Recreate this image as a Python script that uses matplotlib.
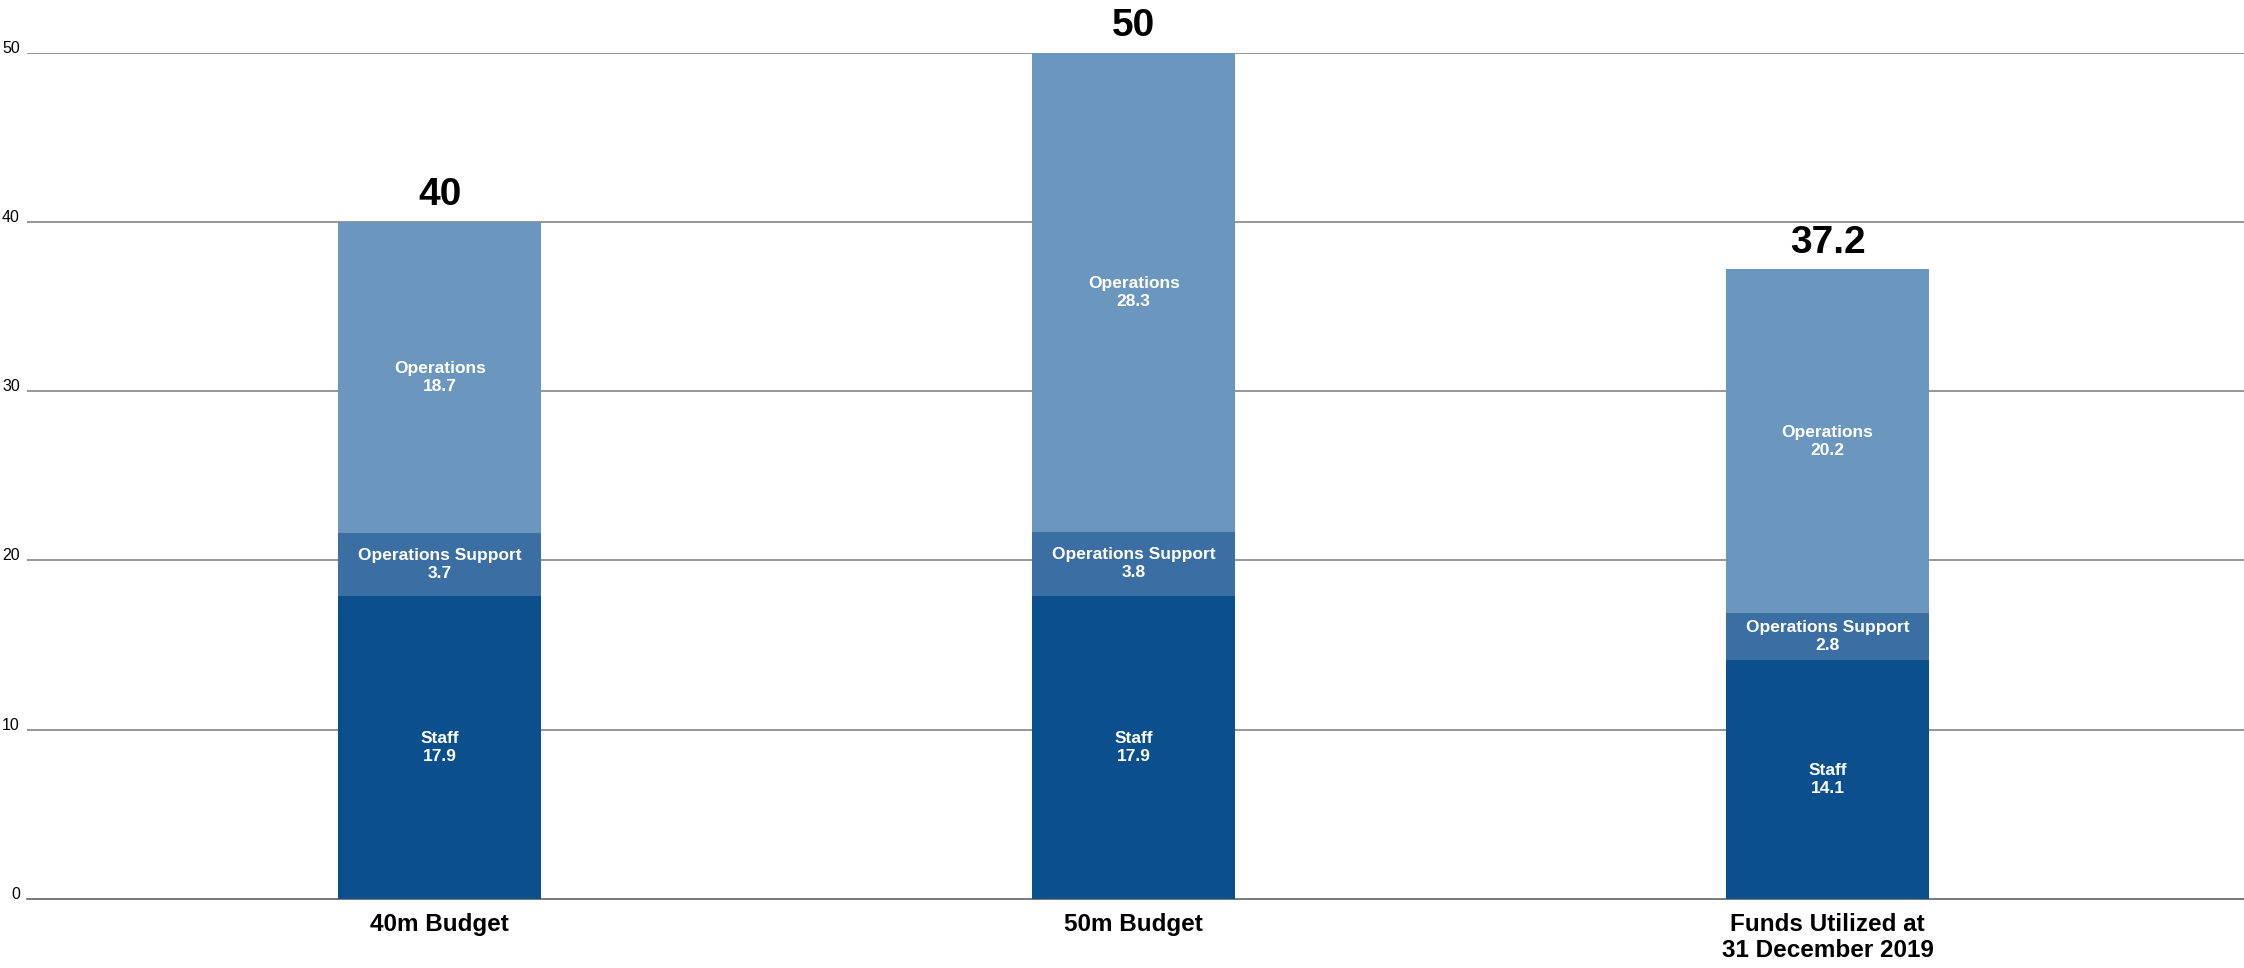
import numpy as np
import matplotlib
matplotlib.use('Agg')
import matplotlib.pyplot as plt

plt.rcParams['font.family'] = ['Liberation Sans', 'DejaVu Sans']

# data
categories = ['40m Budget', '50m Budget', 'Funds Utilized at\n31 December 2019']
staff = [17.9, 17.9, 14.1]
ops_support = [3.7, 3.8, 2.8]
operations = [18.7, 28.3, 20.2]
totals = [40, 50, 37.2]
total_labels = ['40', '50', '37.2']

colors = {'Staff': '#0b4f8c', 'Operations Support': '#3b6fa3', 'Operations': '#6b96bd'}

fig = plt.figure(figsize=(22.44, 9.68), dpi=100)
ax = fig.add_axes([0.012, 0.0713, 0.988, 0.8742])

x = np.arange(len(categories))
w = 0.292

# top segment drawn up to the stated total so the bar tops sit where the totals say
ops_drawn = np.array(totals) - np.array(staff) - np.array(ops_support)
bottom2 = np.array(staff) + np.array(ops_support)

ax.bar(x, staff, w, color=colors['Staff'], zorder=3)
ax.bar(x, ops_support, w, bottom=staff, color=colors['Operations Support'], zorder=3)
ax.bar(x, ops_drawn, w, bottom=bottom2, color=colors['Operations'], zorder=3)

# segment labels
lbl = dict(ha='center', va='center', color='white', fontsize=12.5, fontweight='bold',
           linespacing=1.25, zorder=4)
for i in range(len(x)):
    ax.text(x[i], staff[i] / 2, 'Staff\n' + f'{staff[i]:.1f}', **lbl)
    ax.text(x[i], staff[i] + ops_support[i] / 2, 'Operations Support\n' + f'{ops_support[i]:.1f}', **lbl)
    ax.text(x[i], bottom2[i] + ops_drawn[i] / 2, 'Operations\n' + f'{operations[i]:.1f}', **lbl)
    ax.annotate(total_labels[i], (x[i], totals[i]), xytext=(0, 12), textcoords='offset points',
                ha='center', va='baseline', fontsize=28, fontweight='bold', color='black',
                annotation_clip=False)

ax.set_xlim(-0.595, 2.6)
ax.set_ylim(0, 50)

# gridlines
for yv in [10, 20, 30, 40, 50]:
    ax.axhline(yv, color='#7a7a7a', lw=1.1, zorder=1)

ax.set_yticks([0, 10, 20, 30, 40, 50])
ax.set_yticklabels(['0', '10', '20', '30', '40', '50'], fontsize=11.5, va='baseline')
ax.tick_params(axis='y', length=0, pad=5)
ax.set_xticks(x)
ax.set_xticklabels(categories, fontsize=17.5, fontweight='bold', linespacing=1.2)
ax.tick_params(axis='x', length=0, pad=10)

for s in ['top', 'right', 'left']:
    ax.spines[s].set_visible(False)
ax.spines['bottom'].set_color('#555555')
ax.spines['bottom'].set_linewidth(1.1)
ax.spines['bottom'].set_zorder(2)

plt.savefig('out.png', dpi=100)
